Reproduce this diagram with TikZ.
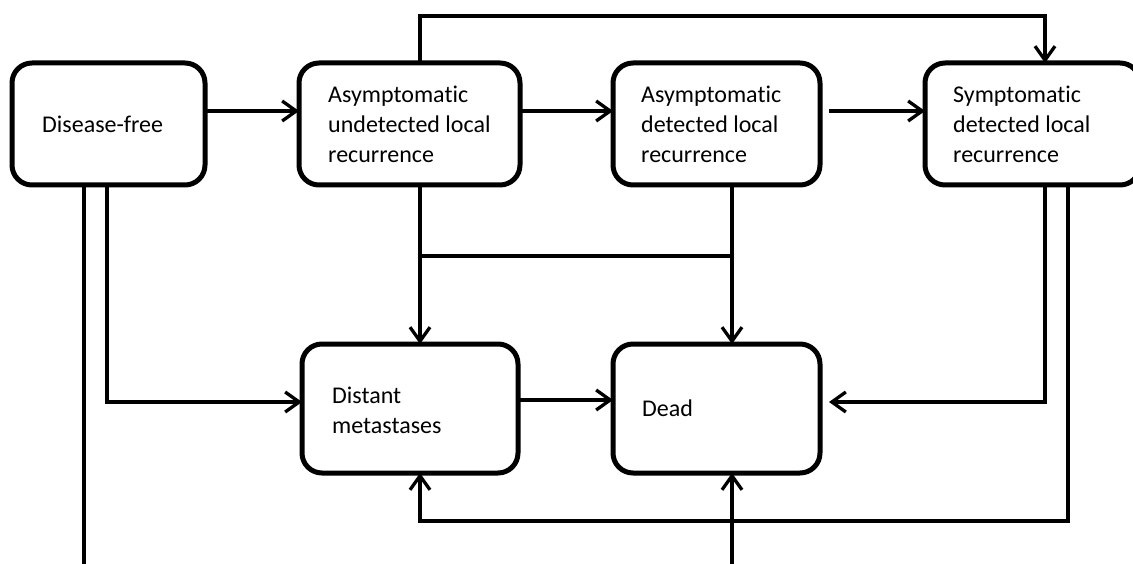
\documentclass[tikz,border=0pt]{standalone}
\usepackage{fontspec}
\setmainfont{Carlito}[Ligatures=NoCommon]
\usetikzlibrary{arrows.meta}
\begin{document}
\begin{tikzpicture}[x=1pt,y=-1pt,
  box/.style={draw, line width=5pt, rounded corners=20pt, minimum width=#1,
    minimum height=122pt, inner sep=0pt, outer sep=0pt},
  txt/.style={anchor=west, align=left, inner sep=0pt,
    font=\fontsize{24pt}{30pt}\selectfont},
  conn/.style={line width=3.3pt},
  arr/.style={conn, -{Straight Barb[length=14pt,width=20pt]}}]
\useasboundingbox (0,0) rectangle (1133,564);
\clip (0,0) rectangle (1133,564);

% boxes
\node[box=193pt] (df) at (108.5,124) {};
\node[box=221pt] (und) at (409.5,124) {};
\node[box=207pt] (det) at (716.5,124) {};
\node[box=215pt] (sym) at (1032.5,124) {};
\node[box=216pt, minimum height=129pt] (dist) at (410,408.5) {};
\node[box=207pt, minimum height=129pt] (dead) at (716.5,408.5) {};

% texts
\node[txt] (dft) at ([xshift=30pt]df.west) {Disease-free};
\node[txt] (undt) at ([xshift=29pt]und.west) {Asymptomatic\\undetected local\\recurrence};
\node[txt] (dett) at ([xshift=28pt]det.west) {Asymptomatic\\detected local\\recurrence};
\node[txt] (symt) at ([xshift=28pt]sym.west) {Symptomatic\\detected local\\recurrence};
\node[txt] (distt) at ([xshift=30pt,yshift=-1.5pt]dist.west) {Distant\\metastases};
\node[txt] (deadt) at ([xshift=29pt]dead.west) {Dead};

% helper coordinates
\coordinate (t1) at (420,16);
\coordinate (t2) at (1045,16);
\coordinate (j2) at (732,256);
\coordinate (c3) at (107,402);
\coordinate (e1) at (84,570);
\coordinate (e2) at (732,570);
\coordinate (c4) at (1045,402);
\coordinate (c5) at (1068,521);
\coordinate (c6) at (420,521);

% top row arrows
\draw[arr] ([yshift=13pt]df.east) -- ([yshift=13pt]und.west);
\draw[arr] ([yshift=13pt]und.east) -- ([yshift=13pt]det.west);
\draw[arr] ([xshift=9pt,yshift=13pt]det.east) -- ([yshift=13pt]sym.west);

% top bypass
\draw[arr] (und.north -| t1) -- (t1) -- (t2) -- (sym.north -| t2);

% down arrows to bottom row
\draw[arr] (und.south -| t1) -- (dist.north -| t1);
\draw[arr] (det.south -| j2) -- (dead.north -| j2);
\draw[conn] (t1 |- j2) -- (j2);

% disease-free lines
\draw[arr] (df.south -| c3) -- (c3) -- (dist.west |- c3);
\draw[conn] (df.south -| e1) -- (e1);

% distant -> dead
\draw[arr] ([yshift=8.5pt]dist.east) -- ([yshift=8.5pt]dead.west);

% from bottom into dead
\draw[arr] (e2) -- (dead.south -| e2);

% symptomatic -> dead
\draw[arr] (sym.south -| c4) -- (c4) -- ([xshift=9pt]dead.east |- c4);

% symptomatic -> distant
\draw[arr] (sym.south -| c5) -- (c5) -- (c6) -- (dist.south -| c6);
\end{tikzpicture}
\end{document}
